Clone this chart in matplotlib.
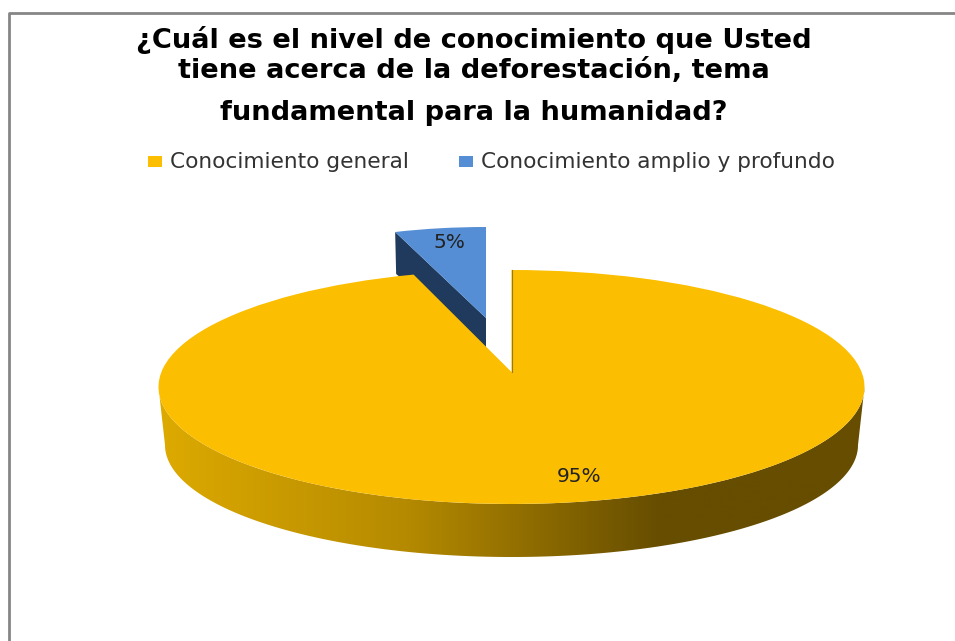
import numpy as np
import matplotlib
matplotlib.use("Agg")
import matplotlib.pyplot as plt
from matplotlib.colors import LinearSegmentedColormap
from matplotlib.patches import Polygon, Rectangle
from matplotlib.transforms import Affine2D

# Data
labels = ["Conocimiento general", "Conocimiento amplio y profundo"]
shares = [95, 5]
title_lines = [
    "¿Cuál es el nivel de conocimiento que Usted",
    "tiene acerca de la deforestación, tema",
    "fundamental para la humanidad?",
]

YELLOW = "#FBBE00"
BLUE = "#558ED5"
NAVY = "#1F3A5C"

fig = plt.figure(figsize=(9.55, 6.41), dpi=100)
ax = fig.add_axes([0, 0, 1, 1])

# --------------------
# Pie
# --------------------
wedges, _ = ax.pie(shares, colors=[YELLOW, BLUE], startangle=90, counterclock=False,
                   wedgeprops={"linewidth": 0})

# the pie is tilted, so it gets its own ellipse and apex per slice
wedges[0].set_theta1(wedges[0].theta1 - 1.9)
shapes = [(511.5, 387, 353, 117, 372), (486, 329, 294, 102, 318)]
for wedge, (cx, cy, rx, ry, apex_y) in zip(wedges, shapes):
    verts = wedge.get_path().vertices
    verts[np.all(np.isclose(verts, 0), axis=1)] = (0, (cy - apex_y) / ry)
    wedge.set_transform(Affine2D().scale(rx, -ry).translate(cx, cy) + ax.transData)
    wedge.set_zorder(3)

ax.set_aspect("auto")
ax.set_xlim(0, 955)
ax.set_ylim(641, 0)
ax.axis("off")

# side of the yellow slice
cx, cy, rx, ry, apex_y = shapes[0]
t = np.linspace(np.pi, 0, 200)
top_edge = np.column_stack([cx + rx * np.cos(t), cy + ry * np.sin(t)])
low_edge = np.column_stack([cx + (rx - 6.5) * np.cos(t[::-1]), cy + 58 + (ry - 5) * np.sin(t[::-1])])
side = Polygon(np.vstack([top_edge, low_edge]), closed=True, transform=ax.transData, fc="none", ec="none")
ax.add_patch(side)
side_cmap = LinearSegmentedColormap.from_list(
    "side", [(0, "#DDAA00"), (0.35, "#B58A00"), (0.71, "#664D00"), (1, "#664D00")])
img = ax.imshow(np.linspace(0, 1, 256).reshape(1, -1), cmap=side_cmap, aspect="auto",
                extent=(cx - rx, cx + rx, 570, 380), zorder=1)
img.set_clip_path(side)
ax.set_xlim(0, 955)
ax.set_ylim(641, 0)

# cut face of the blue slice
bx, by, brx, bry, b_apex = shapes[1]
sweep = np.deg2rad(360 * shares[1] / sum(shares))
corner = (bx - brx * np.sin(sweep), by - bry * np.cos(sweep))
ax.add_patch(Polygon([corner, (bx, b_apex), (bx, b_apex + 30), (corner[0] + 1, corner[1] + 42)],
                     closed=True, fc=NAVY, ec="none", zorder=2))
# thin edge where the yellow slice is cut
ax.plot([cx, cx], [cy - ry, apex_y], color="#9A7A10", lw=0.8, zorder=4)

# slice labels
ax.text(579, 476, f"{shares[0]}%", ha="center", va="center", fontsize=14.5, color="#222222", zorder=5)
ax.text(449, 242, f"{shares[1]}%", ha="center", va="center", fontsize=14.5, color="#222222", zorder=5)

# --------------------
# Title and legend
# --------------------
for line, y in zip(title_lines, [40, 71, 113]):
    ax.text(474, y, line, ha="center", va="center", fontsize=19.6, fontweight="bold", color="black")

for x, color, label in zip([148, 459], [YELLOW, BLUE], labels):
    ax.add_patch(Rectangle((x, 156), 14, 11, fc=color, ec="none"))
    ax.text(x + 22, 161.5, label, ha="left", va="center", fontsize=15.6, color="#333333")

# chart frame
ax.plot([8.5, 8.5, 955], [641, 13, 13], color="#868686", lw=2, clip_on=False)

fig.savefig("out.png", dpi=100)
